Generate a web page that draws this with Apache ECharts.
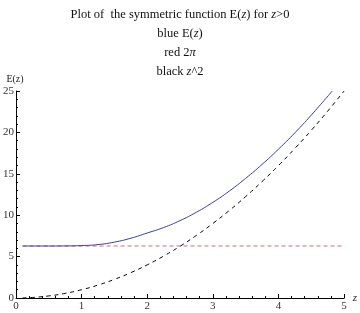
<!DOCTYPE html>
<html>
<head>
<meta charset="utf-8">
<script src="https://cdn.jsdelivr.net/npm/echarts@6/dist/echarts.min.js"></script>
<style>
html,body{margin:0;padding:0;background:#fff;}
#c{width:360px;height:313px;}
</style>
</head>
<body>
<div id="c"></div>
<script>
// Blue: E(z)
const zBlue = [0.1, 0.25, 0.5, 0.75, 1.0, 1.25, 1.5, 1.75, 2.0, 2.25, 2.5, 2.75, 3.0, 3.25, 3.5, 3.75, 4.0, 4.25, 4.5, 4.82];
const eBlue = [6.28, 6.28, 6.28, 6.29, 6.33, 6.45, 6.75, 7.22, 7.85, 8.51, 9.35, 10.36, 11.55, 12.91, 14.45, 16.13, 17.97, 19.95, 22.08, 25.0];
// Red: 2π
const zRed = [0.1, 5.0];
const eRed = [6.28, 6.28];
// Black: z^2
const zBlack = [0.1, 0.25, 0.5, 0.75, 1.0, 1.25, 1.5, 1.75, 2.0, 2.25, 2.5, 2.75, 3.0, 3.25, 3.5, 3.75, 4.0, 4.25, 4.5, 4.75, 5.0];
const eBlack = [0.01, 0.0625, 0.25, 0.5625, 1.0, 1.5625, 2.25, 3.0625, 4.0, 5.0625, 6.25, 7.5625, 9.0, 10.5625, 12.25, 14.0625, 16.0, 18.0625, 20.25, 22.5625, 25.0];
// Ticks
const xTicks = [0, 1, 2, 3, 4, 5];
const yTicks = [0, 5, 10, 15, 20, 25];

function pairs(xs, ys) { return xs.map((x, i) => [x, ys[i]]); }

const serif = '"Liberation Serif", "DejaVu Serif", serif';
const chart = echarts.init(document.getElementById('c'), null, {renderer: 'canvas'});
chart.setOption({
  animation: false,
  backgroundColor: '#fff',
  title: {
    left: 'center',
    top: 0,
    text: 'Plot of  the symmetric function E({i|z}) for {i|z}>0\nblue E({i|z})\nred 2{i|π}\nblack {i|z}^2',
    textStyle: {
      fontFamily: serif, fontSize: 12.5, fontWeight: 'normal', color: '#111', lineHeight: 19,
      rich: { i: { fontFamily: serif, fontSize: 12.5, fontStyle: 'italic', color: '#111', lineHeight: 19 } }
    }
  },
  grid: { left: 14, right: 13, top: 91, bottom: 15, containLabel: false },
  xAxis: {
    type: 'value', min: xTicks[0], max: xTicks[xTicks.length - 1], interval: 1,
    name: 'z', nameLocation: 'end', nameGap: 3,
    nameTextStyle: { fontFamily: serif, fontSize: 11, fontStyle: 'italic', color: '#222', verticalAlign: 'middle', padding: [0, 0, 0, 0] },
    axisLine: { show: true, onZero: false, lineStyle: { color: '#000', width: 1 } },
    axisTick: { show: true, inside: true, length: 4, lineStyle: { color: '#000' } },
    minorTick: { show: true, splitNumber: 5, length: 2, lineStyle: { color: '#000' } },
    splitLine: { show: false },
    axisLabel: { fontFamily: serif, fontSize: 11, color: '#333', margin: 3, showMaxLabel: true, showMinLabel: true }
  },
  yAxis: {
    type: 'value', min: yTicks[0], max: yTicks[yTicks.length - 1], interval: 5,
    name: 'E(z)', nameLocation: 'end', nameGap: 7,
    nameTextStyle: { fontFamily: serif, fontSize: 10, color: '#222', align: 'center', padding: [0, 2, 0, 0] },
    axisLine: { show: true, onZero: false, lineStyle: { color: '#000', width: 1 } },
    axisTick: { show: true, inside: true, length: 4, lineStyle: { color: '#000' } },
    minorTick: { show: true, splitNumber: 5, length: 2, lineStyle: { color: '#000' } },
    splitLine: { show: false },
    axisLabel: { fontFamily: serif, fontSize: 11, color: '#333', margin: 2, showMaxLabel: true, showMinLabel: true }
  },
  series: [
    {
      type: 'line', data: pairs(zBlue, eBlue), smooth: 0.5, showSymbol: false,
      lineStyle: { color: '#3c3c9a', width: 1 }, z: 3
    },
    {
      type: 'line', data: pairs(zRed, eRed), showSymbol: false,
      lineStyle: { color: '#e0607a', width: 1, type: [4, 3] }, z: 2
    },
    {
      type: 'line', data: pairs(zBlack, eBlack), smooth: 0.5, showSymbol: false,
      lineStyle: { color: '#000', width: 1, type: [4, 4] }, z: 2
    }
  ]
});
</script>
</body>
</html>
